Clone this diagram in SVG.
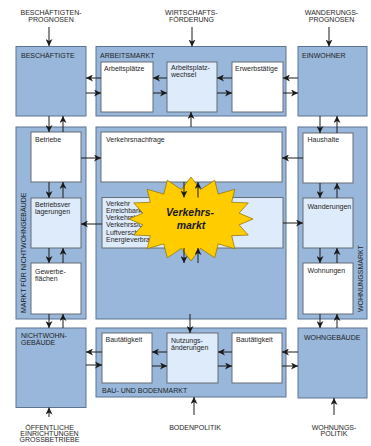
<svg xmlns="http://www.w3.org/2000/svg" width="371" height="446" viewBox="0 0 371 446">
<style>
.outer{fill:#98b7db;stroke:#5d7491;stroke-width:1}
.inner{fill:#ffffff;stroke:#666c75;stroke-width:1}
.light{fill:#deebfa;stroke:#666c75;stroke-width:1}
text{font-family:"Liberation Sans",Arial,sans-serif;font-size:7px;fill:#1e1e1e}
.c{text-anchor:middle}
.con line{stroke:#1a1a1a;stroke-width:1;marker-end:url(#ah)}
.star{fill:#ffcc00;stroke:#8a6d00;stroke-width:0.7}
.st{font-size:10.5px;font-weight:bold;font-style:italic;text-anchor:middle;fill:#1a1a1a}
</style>
<defs>
<marker id="ah" markerUnits="userSpaceOnUse" markerWidth="8" markerHeight="7" refX="7" refY="3.5" orient="auto">
<path d="M0,0 L7,3.5 L0,7 L2,3.5 z" fill="#1a1a1a"/>
</marker>
</defs>
<rect width="371" height="446" fill="#ffffff"/>

<g id="lbl-beschaeftigtenprognosen"><text class="c" x="51" y="15">BESCHÄFTIGTEN-</text><text class="c" x="51" y="22">PROGNOSEN</text></g>
<g id="lbl-wirtschaftsfoerderung"><text class="c" x="191.5" y="15">WIRTSCHAFTS-</text><text class="c" x="191.5" y="22">FÖRDERUNG</text></g>
<g id="lbl-wanderungsprognosen"><text class="c" x="331.5" y="15">WANDERUNGS-</text><text class="c" x="331.5" y="22">PROGNOSEN</text></g>

<g id="beschaeftigte"><rect class="outer" x="16" y="46.5" width="70" height="69.5"/><text x="21" y="57.5">BESCHÄFTIGTE</text></g>
<g id="arbeitsmarkt"><rect class="outer" x="96" y="46.5" width="190" height="69.5"/><text x="100" y="57.5">ARBEITSMARKT</text></g>
<g id="arbeitsplaetze"><rect class="inner" x="101" y="62" width="52" height="50"/><text x="104" y="71">Arbeitsplätze</text></g>
<g id="arbeitsplatzwechsel"><rect class="light" x="167" y="62" width="50" height="50"/><text x="171" y="69.5">Arbeitsplatz-</text><text x="171" y="76.5">wechsel</text></g>
<g id="erwerbstaetige"><rect class="inner" x="232" y="62" width="51" height="50"/><text x="235" y="71">Erwerbstätige</text></g>
<g id="einwohner"><rect class="outer" x="298" y="46.5" width="69" height="69.5"/><text x="302" y="57.5">EINWOHNER</text></g>

<g id="markt-nichtwohngebaeude"><rect class="outer" x="16" y="127" width="70" height="192"/><text transform="translate(25.5,313) rotate(-90)">MARKT FÜR NICHTWOHNGEBÄUDE</text></g>
<g id="betriebe"><rect class="inner" x="31" y="132" width="50" height="50"/><text x="35" y="141.5">Betriebe</text></g>
<g id="betriebsverlagerungen"><rect class="light" x="31" y="198" width="50" height="50"/><text x="35" y="206.5">Betriebsver</text><text x="35" y="214">lagerungen</text></g>
<g id="gewerbeflaechen"><rect class="inner" x="31" y="263" width="50" height="51"/><text x="35" y="274">Gewerbe-</text><text x="35" y="281">flächen</text></g>

<g id="verkehrsmarkt-rahmen"><rect class="outer" x="96" y="127" width="190" height="192"/></g>
<g id="verkehrsnachfrage"><rect class="inner" x="101" y="132" width="181" height="50"/><text x="106" y="142">Verkehrsnachfrage</text></g>
<g id="verkehr"><rect class="light" x="102" y="197.5" width="181" height="50.5"/>
<text x="106" y="205.5">Verkehr</text><text x="106" y="212.8">Erreichbarkeit</text><text x="106" y="220.1">Verkehrsleistung</text><text x="106" y="227.4">Verkehrssicherheit</text><text x="106" y="234.7">Luftverschmutzung</text><text x="106" y="242">Energieverbrauch</text></g>
<g id="verkehrsmarkt-stern">
<polygon class="star" points="191,177 200.6,189.6 214.7,180.2 218.2,194.1 234.8,189.3 231.7,202.3 248.3,202.9 239.1,213.1 253,219 239.1,224.9 248.3,235.1 231.7,235.7 234.8,248.7 218.2,243.9 214.7,257.8 200.6,248.4 191,261 181.4,248.4 167.3,257.8 163.8,243.9 147.2,248.7 150.3,235.7 133.7,235.1 142.9,224.9 129,219 142.9,213.1 133.7,202.9 150.3,202.3 147.2,189.3 163.8,194.1 167.3,180.2 181.4,189.6"/>
<text class="st" x="190" y="216">Verkehrs-</text><text class="st" x="191" y="229">markt</text></g>

<g id="wohnungsmarkt"><rect class="outer" x="298" y="127" width="69" height="192"/><text transform="translate(362.5,312) rotate(-90)">WOHNUNGSMARKT</text></g>
<g id="haushalte"><rect class="inner" x="303" y="133" width="50" height="50"/><text x="307.5" y="142">Haushalte</text></g>
<g id="wanderungen"><rect class="light" x="303" y="198" width="50" height="50"/><text x="307.5" y="209">Wanderungen</text></g>
<g id="wohnungen"><rect class="inner" x="303" y="263" width="50" height="51"/><text x="307.5" y="273">Wohnungen</text></g>

<g id="nichtwohngebaeude"><rect class="outer" x="16" y="328" width="70" height="79.5"/><text x="21" y="338">NICHTWOHN-</text><text x="21" y="345">GEBÄUDE</text></g>
<g id="bau-bodenmarkt"><rect class="outer" x="96" y="328" width="190" height="69"/><text x="102" y="393">BAU- UND BODENMARKT</text></g>
<g id="bautaetigkeit-links"><rect class="inner" x="102" y="333" width="50" height="50"/><text x="105.5" y="341.5">Bautätigkeit</text></g>
<g id="nutzungsaenderungen"><rect class="light" x="167" y="333" width="51" height="50"/><text x="171" y="342.5">Nutzungs-</text><text x="171" y="349.5">änderungen</text></g>
<g id="bautaetigkeit-rechts"><rect class="inner" x="232" y="333" width="50" height="50"/><text x="236" y="341.5">Bautätigkeit</text></g>
<g id="wohngebaeude"><rect class="outer" x="298" y="328" width="69" height="70"/><text x="304" y="339.5">WOHNGEBÄUDE</text></g>

<g id="lbl-oeffentliche"><text class="c" x="49.5" y="429.5">ÖFFENTLICHE</text><text class="c" x="49.5" y="435.5">EINRICHTUNGEN</text><text class="c" x="49.5" y="441.5">GROSSBETRIEBE</text></g>
<g id="lbl-bodenpolitik"><text class="c" x="195" y="429.5">BODENPOLITIK</text></g>
<g id="lbl-wohnungspolitik"><text class="c" x="334" y="429.5">WOHNUNGS-</text><text class="c" x="334" y="436">POLITIK</text></g>

<g id="connectors" class="con">
<line x1="49" y1="27" x2="49" y2="46"/>
<line x1="192" y1="27" x2="192" y2="46.5"/>
<line x1="329" y1="27" x2="329" y2="46.5"/>
<line x1="101" y1="78" x2="86" y2="78"/>
<line x1="86" y1="93" x2="101" y2="93"/>
<line x1="167" y1="78" x2="153" y2="78"/>
<line x1="153" y1="93" x2="167" y2="93"/>
<line x1="232" y1="78" x2="217" y2="78"/>
<line x1="217" y1="93" x2="232" y2="93"/>
<line x1="298" y1="78" x2="283" y2="78"/>
<line x1="283" y1="93" x2="298" y2="93"/>
<line x1="49" y1="116" x2="49" y2="132"/>
<line x1="63" y1="132" x2="63" y2="116"/>
<line x1="191" y1="127" x2="191" y2="112"/>
<line x1="320" y1="116" x2="320" y2="133"/>
<line x1="337" y1="133" x2="337" y2="116"/>
<line x1="81" y1="158" x2="101" y2="158"/>
<line x1="303" y1="158" x2="282" y2="158"/>
<line x1="102" y1="224" x2="81" y2="224"/>
<line x1="283" y1="223" x2="303" y2="223"/>
<line x1="49" y1="182" x2="49" y2="198"/>
<line x1="63" y1="198" x2="63" y2="182"/>
<line x1="49" y1="248" x2="49" y2="263"/>
<line x1="63" y1="263" x2="63" y2="248"/>
<line x1="49" y1="314" x2="49" y2="328"/>
<line x1="63" y1="328" x2="63" y2="314"/>
<line x1="320" y1="183" x2="320" y2="198"/>
<line x1="337" y1="198" x2="337" y2="183"/>
<line x1="320" y1="248" x2="320" y2="263"/>
<line x1="337" y1="263" x2="337" y2="248"/>
<line x1="320" y1="314" x2="320" y2="328"/>
<line x1="337" y1="328" x2="337" y2="314"/>
<line x1="184" y1="182" x2="184" y2="197.5"/>
<line x1="198" y1="197.5" x2="198" y2="182"/>
<line x1="184" y1="248" x2="184" y2="263"/>
<line x1="198" y1="263" x2="198" y2="248"/>
<line x1="190" y1="314" x2="190" y2="333"/>
<line x1="102" y1="352" x2="86" y2="352"/>
<line x1="86" y1="365" x2="102" y2="365"/>
<line x1="167" y1="352" x2="152" y2="352"/>
<line x1="152" y1="366" x2="167" y2="366"/>
<line x1="232" y1="352" x2="218" y2="352"/>
<line x1="218" y1="366" x2="232" y2="366"/>
<line x1="298" y1="352" x2="282" y2="352"/>
<line x1="282" y1="366" x2="298" y2="366"/>
<line x1="49" y1="417" x2="49" y2="407.5"/>
<line x1="194" y1="415" x2="194" y2="397"/>
<line x1="334" y1="415" x2="334" y2="398"/>
</g>
</svg>
